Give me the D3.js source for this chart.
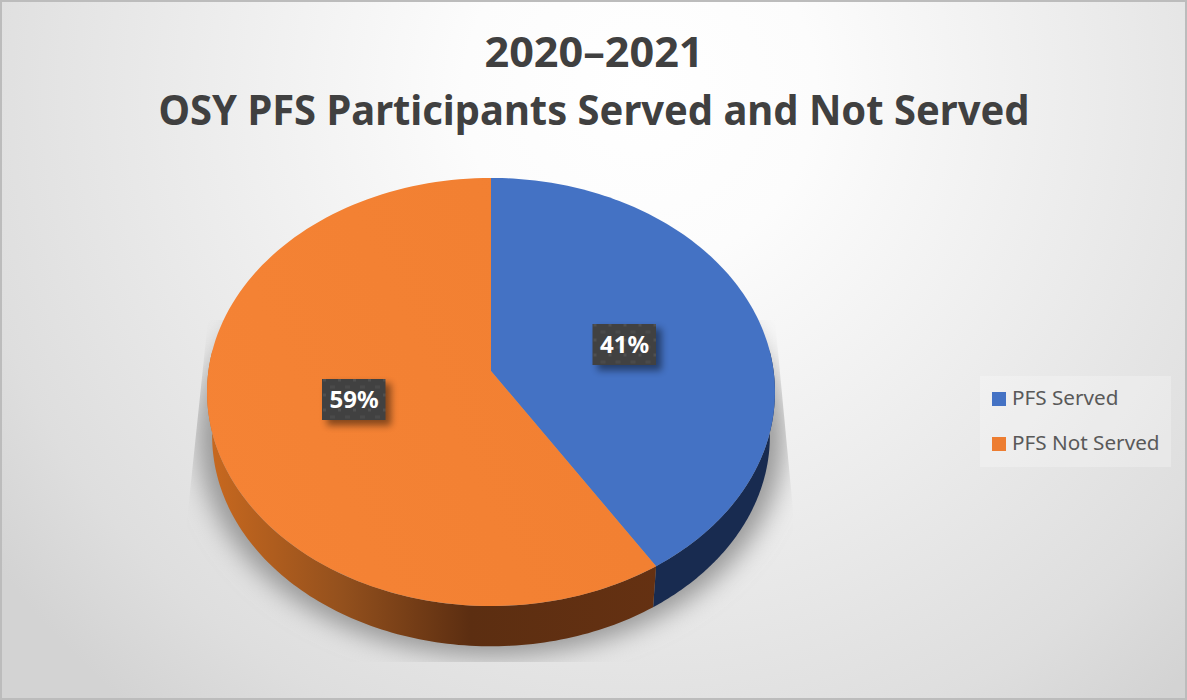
<!DOCTYPE html>
<html>
<head>
<meta charset="utf-8">
<script src="https://cdn.jsdelivr.net/npm/d3@7"></script>
<style>
html,body{margin:0;padding:0;background:#fff}
svg{display:block}
text{font-family:"Noto Sans","Open Sans",sans-serif}
</style>
</head>
<body>
<svg id="chart" width="1187" height="700"></svg>
<script>
const categories = ["PFS Served", "PFS Not Served"];
const shares = [41, 59];
const titleLines = ["2020–2021", "OSY PFS Participants Served and Not Served"];
const titleWidths = [219, 871];
const sliceColors = ["#4472C4", "#ED7D31"];
const labelCentres = [[624.5, 344.5], [354, 399.5]];

const W = 1187, H = 700;
const svg = d3.select("#chart");
const defs = svg.append("defs");

// Tilted disc: a unit circle seen in perspective, with the apex above the ellipse centre.
const apex = {x: 491, y: 371};
const tilt = 0.098, radiusX = 282.6, radiusY = 212;
const vanishY = 2844, wallScale = 0.982;

function topPoint(angle) {
  const u = Math.sin(angle), v = -Math.cos(angle), w = 1 - tilt * v;
  return [apex.x + radiusX * u / w, apex.y + radiusY * v / w];
}
function basePoint(angle) {
  const [x, y] = topPoint(angle);
  return [apex.x + (x - apex.x) * wallScale, vanishY + (y - vanishY) * wallScale];
}
const sweep = (a0, a1, fn) => d3.range(0, 121).map(i => fn(a0 + (a1 - a0) * i / 120));
const path = d3.line();

// Background wash
const bg = defs.append("radialGradient").attr("id", "bg")
  .attr("gradientUnits", "userSpaceOnUse")
  .attr("cx", 640).attr("cy", 90).attr("r", 800);
[[0, "#ffffff"], [0.22, "#fcfcfc"], [0.62, "#e9e9e9"], [0.85, "#dedede"], [1, "#d3d3d3"]].forEach(([o, c]) =>
  bg.append("stop").attr("offset", o).attr("stop-color", c));
svg.append("rect").attr("x", 1).attr("y", 1).attr("width", W - 2).attr("height", H - 2)
  .attr("fill", "url(#bg)").attr("stroke", "#bcbcbc").attr("stroke-width", 2);

// Drop shadow below the disc, blurred then trimmed to a trapezoid
defs.append("filter").attr("id", "softShadow")
  .attr("x", "-20%").attr("y", "-20%").attr("width", "140%").attr("height", "140%")
  .append("feGaussianBlur").attr("stdDeviation", 12);
defs.append("clipPath").attr("id", "shadowClip").append("path")
  .attr("d", path([[208, 320], [187, 520], [187, 662], [795, 662], [793, 510], [775, 320]]) + "Z");
svg.append("g").attr("clip-path", "url(#shadowClip)")
  .append("path")
  .attr("d", path(sweep(0, 2 * Math.PI, basePoint)) + "Z")
  .attr("transform", "translate(491,400) scale(1.05,1.04) translate(-491,-400)")
  .attr("fill", "#989898").attr("filter", "url(#softShadow)");

// Slices from the pie layout, clockwise from twelve o'clock
const pieLayout = d3.pie().sort(null).value(d => d)(shares);

// Orange rim shading runs dark towards the front of the disc
const rimOrange = defs.append("linearGradient").attr("id", "rimOrange")
  .attr("gradientUnits", "userSpaceOnUse").attr("x1", 207).attr("x2", 660).attr("y1", 0).attr("y2", 0);
[[0, "#c9691f"], [0.3, "#93501d"], [0.58, "#5c2e11"], [1, "#653112"]].forEach(([o, c]) =>
  rimOrange.append("stop").attr("offset", o).attr("stop-color", c));
const rimFills = ["#182b50", "url(#rimOrange)"];

// Side walls
svg.selectAll("path.wall").data(pieLayout).join("path").attr("class", "wall")
  .attr("fill", (d, i) => rimFills[i])
  .attr("d", d => {
    const a0 = Math.max(d.startAngle, Math.PI / 2 - 0.1);
    const a1 = Math.min(d.endAngle, 3 * Math.PI / 2 + 0.1);
    return path(sweep(a0, a1, topPoint).concat(sweep(a1, a0, basePoint))) + "Z";
  });

// Top faces
const faceOrange = defs.append("linearGradient").attr("id", "faceOrange")
  .attr("gradientUnits", "userSpaceOnUse").attr("x1", 207).attr("x2", 660).attr("y1", 500).attr("y2", 300);
faceOrange.append("stop").attr("offset", 0).attr("stop-color", "#f58335");
faceOrange.append("stop").attr("offset", 1).attr("stop-color", "#f17f31");
const faceFills = [sliceColors[0], "url(#faceOrange)"];
svg.selectAll("path.face").data(pieLayout).join("path").attr("class", "face")
  .attr("fill", (d, i) => faceFills[i])
  .attr("d", d => path([[apex.x, apex.y]].concat(sweep(d.startAngle, d.endAngle, topPoint))) + "Z");

// Dotted tile behind the value labels
const dots = defs.append("pattern").attr("id", "dots").attr("patternUnits", "userSpaceOnUse")
  .attr("width", 15).attr("height", 15).attr("x", 593).attr("y", 324);
dots.append("rect").attr("width", 15).attr("height", 15).attr("fill", "#414141");
dots.append("rect").attr("x", 6).attr("y", 0).attr("width", 3).attr("height", 3).attr("fill", "#505050");
dots.append("rect").attr("x", 0).attr("y", 7).attr("width", 3).attr("height", 3).attr("fill", "#4a4a4a");
dots.append("rect").attr("x", 13).attr("y", 7).attr("width", 2).attr("height", 3).attr("fill", "#4a4a4a");

const labelShadow = defs.append("filter").attr("id", "labelShadow")
  .attr("x", "-30%").attr("y", "-30%").attr("width", "170%").attr("height", "170%");
labelShadow.append("feGaussianBlur").attr("stdDeviation", 3.6);

const labels = svg.selectAll("g.label").data(pieLayout).join("g").attr("class", "label")
  .attr("transform", (d, i) => `translate(${labelCentres[i][0]},${labelCentres[i][1]})`);
labels.append("rect").attr("x", -27).attr("y", -16).attr("width", 64).attr("height", 42)
  .attr("fill", "#000").attr("opacity", 0.45).attr("filter", "url(#labelShadow)");
labels.append("rect").attr("x", -32).attr("y", -20.5).attr("width", 63.5).attr("height", 41)
  .attr("fill", "url(#dots)");
labels.append("text").attr("text-anchor", "middle").attr("y", 8.5)
  .attr("fill", "#fff").attr("font-size", 24).attr("font-weight", 700)
  .text(d => d.value + "%");

// Title
svg.selectAll("text.title").data(titleLines).join("text").attr("class", "title")
  .attr("x", 594).attr("y", (d, i) => 67 + i * 58)
  .attr("text-anchor", "middle").attr("fill", "#404040")
  .attr("font-size", 41.5).attr("font-weight", 700)
  .attr("textLength", (d, i) => titleWidths[i]).attr("lengthAdjust", "spacingAndGlyphs")
  .text(d => d);

// Legend
svg.append("rect").attr("x", 980).attr("y", 376).attr("width", 191).attr("height", 91)
  .attr("fill", "#ffffff").attr("opacity", 0.25);
const legend = svg.selectAll("g.legend").data(categories).join("g").attr("class", "legend")
  .attr("transform", (d, i) => `translate(992,${392 + i * 45})`);
legend.append("rect").attr("width", 14).attr("height", 14).attr("fill", (d, i) => sliceColors[i]);
legend.append("text").attr("x", 20).attr("y", 13).attr("fill", "#595959")
  .attr("font-size", 20.7).text(d => d);
</script>
</body>
</html>
